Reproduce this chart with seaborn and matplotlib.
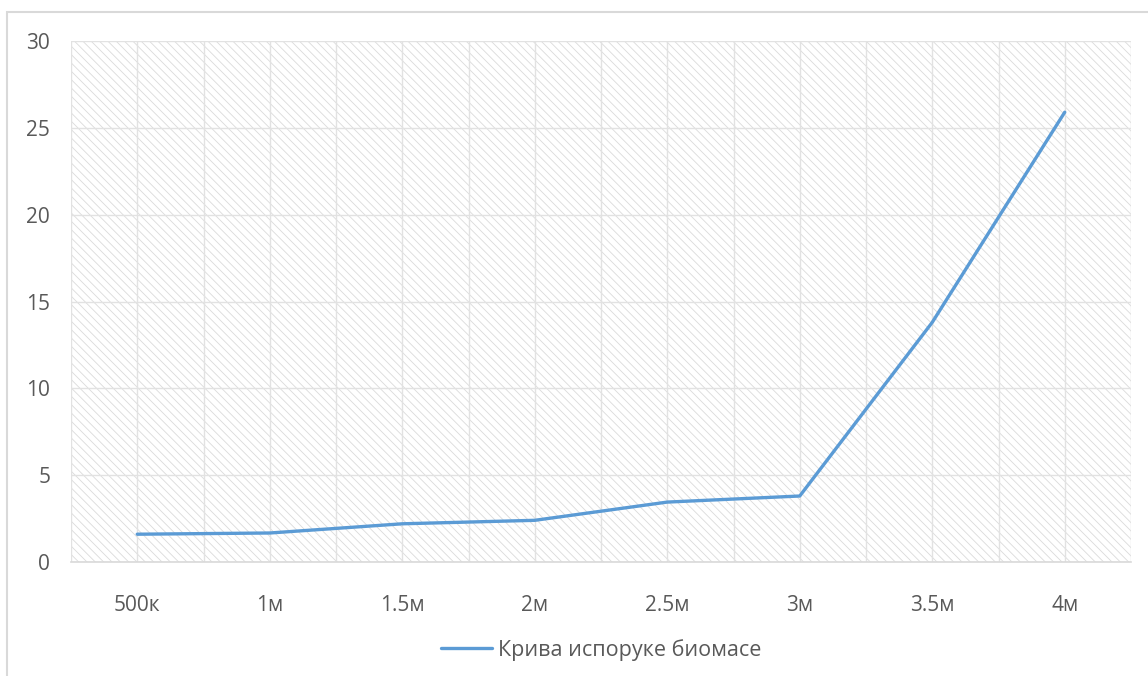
import matplotlib
matplotlib.use("Agg")
import matplotlib.pyplot as plt
import numpy as np
import pandas as pd
import seaborn as sns
from matplotlib.patches import Rectangle

# ─── Data ─────────────────────────────────────────────────────────────────────
categories = ["500к", "1м", "1.5м", "2м", "2.5м", "3м", "3.5м", "4м"]
values     = [1.6, 1.67, 2.2, 2.4, 3.45, 3.8, 13.8, 25.9]
series     = "Крива испоруке биомасе"
y_ticks    = [0, 5, 10, 15, 20, 25, 30]

df = pd.DataFrame({"x": categories, "y": values, "s": series})

# ─── Style ────────────────────────────────────────────────────────────────────
sns.set_style("white")
plt.rcParams["font.family"] = ["Open Sans", "DejaVu Sans"]
plt.rcParams["hatch.linewidth"] = 0.6

LINE_C  = "#5b9bd5"
GRID_C  = "#e2e2e2"
HATCH_C = "#dadada"
TEXT_C  = "#595959"
FS      = 15

fig = plt.figure(figsize=(11.48, 6.76), dpi=100)
fig.patches.append(Rectangle((7 / 1148, -0.1), 1.2, 1.1 - 12 / 676,
                             transform=fig.transFigure, fill=False,
                             edgecolor="#d9d9d9", linewidth=1.5))
ax = fig.add_axes([71 / 1148, 1 - 562 / 676, 1060 / 1148, 521 / 676])

# hatched plot area
ax.add_patch(Rectangle((0, 0), 1, 1, transform=ax.transAxes, facecolor="white",
                       hatch="\\\\\\\\", edgecolor=HATCH_C, linewidth=0, zorder=0))

sns.lineplot(data=df, x="x", y="y", hue="s", palette=[LINE_C], linewidth=2.4,
             sort=False, ax=ax, zorder=3)

ax.set_axisbelow(True)
ax.set_xlim(-0.5, len(categories) - 0.5)
ax.set_ylim(0, 30)
ax.set_yticks(y_ticks)
ax.set_xticks(np.arange(-0.5, len(categories), 0.5), minor=True)
ax.grid(True, which="both", axis="x", color=GRID_C, linewidth=1)
ax.grid(True, which="major", axis="y", color=GRID_C, linewidth=1)

ax.set_xlabel("")
ax.set_ylabel("")
ax.tick_params(axis="both", which="both", length=0, labelsize=FS, colors=TEXT_C)
ax.tick_params(axis="x", pad=24)
ax.tick_params(axis="y", pad=15)

for side in ["top", "right", "left"]:
    ax.spines[side].set_visible(False)
ax.spines["bottom"].set_color("#d9d9d9")
ax.spines["bottom"].set_linewidth(1.2)

leg = ax.legend(loc="upper center", bbox_to_anchor=(0.5, -0.11), frameon=False,
                fontsize=FS + 0.5, handlelength=2.4, handletextpad=0.25)
for t in leg.get_texts():
    t.set_color(TEXT_C)

fig.savefig("out.png", dpi=100)
